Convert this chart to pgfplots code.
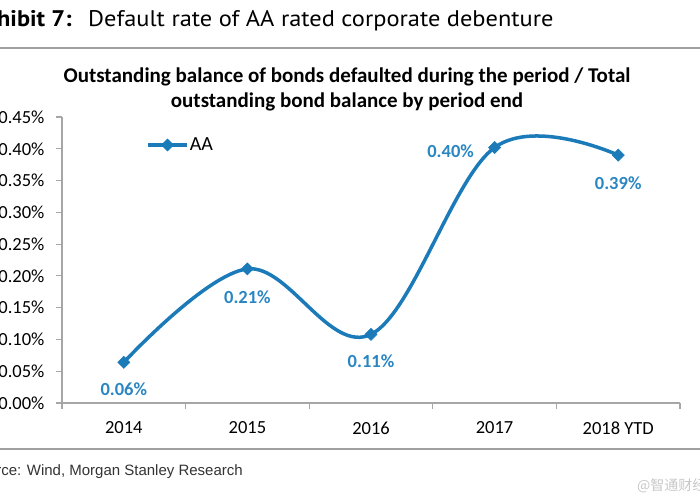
\documentclass[border=0pt]{standalone}
\usepackage{pgfplots}
\pgfplotsset{compat=1.18}
\usepackage{fontspec}
\setmainfont{Carlito}
\newfontfamily\headfont[FakeStretch=1.08]{PT Sans}
\newfontfamily\srcfont{Liberation Sans}
\newfontfamily\cjk{Noto Sans CJK SC}
\definecolor{aablue}{HTML}{1B7AB8}
\definecolor{lblblue}{HTML}{2A86C2}
\definecolor{axgray}{HTML}{A6A6A6}
\definecolor{rulegray}{HTML}{A0A0A0}
\begin{document}
\begin{tikzpicture}
\path[use as bounding box] (0pt,0pt) rectangle (700pt,500pt);
\clip (0pt,0pt) rectangle (700pt,500pt);
\node[anchor=base east, inner sep=0pt, font=\headfont\bfseries\fontsize{22.6}{26}\selectfont] at (72pt,473pt) {Exhibit 7:};
\node[anchor=base west, inner sep=0pt, font=\headfont\fontsize{22.6}{26}\selectfont] at (88pt,473pt) {Default rate of AA rated corporate debenture};
\draw[rulegray, line width=1.5pt] (0pt,452pt) -- (700pt,452pt);
\node[align=center, inner sep=0pt, font=\bfseries\fontsize{21}{25}\selectfont] at (347pt,410.5pt) {Outstanding balance of bonds defaulted during the period / Total\\outstanding bond balance by period end};
\draw[rulegray, line width=1.5pt] (0pt,51pt) -- (700pt,51pt);
\node[anchor=base east, inner sep=0pt, font=\srcfont\fontsize{15}{18}\selectfont, text=black!80] at (243pt,25pt) {Source: Wind, Morgan Stanley Research};
\node[anchor=base west, inner sep=0pt, font=\cjk\fontsize{14}{16}\selectfont, text=black!22] at (637pt,10pt) {@智通财经};
\begin{axis}[
  at={(62pt,97pt)}, anchor=south west,
  scale only axis, width=618pt, height=286pt,
  xmin=-0.5, xmax=4.5, ymin=0, ymax=0.45,
  axis x line*=bottom, axis y line*=left,
  axis line style={-, draw=axgray, line width=1.3pt},
  tick align=outside,
  xtick={0,1,2,3,4},
  xticklabels={2014,2015,2016,2017,2018 YTD},
  major x tick style={draw=none},
  minor xtick={-0.5,0.5,1.5,2.5,3.5,4.5},
  minor tick length=6pt, major tick length=6pt,
  tick style={draw=axgray, line width=1.2pt},
  ytick={0,0.05,0.1,0.15,0.2,0.25,0.3,0.35,0.4,0.45},
  yticklabels={0.00\%,0.05\%,0.10\%,0.15\%,0.20\%,0.25\%,0.30\%,0.35\%,0.40\%,0.45\%},
  tick label style={font=\fontsize{18.5}{20}\selectfont, text=black},
  xticklabel style={yshift=-9pt},
  yticklabel style={xshift=-8pt},
  clip=false,
  legend entries={AA},
  legend style={at={(0.136,0.902)}, anchor=west, draw=none, fill=none, inner sep=0pt,
    font=\fontsize{20}{22}\selectfont, nodes={inner sep=1pt}},
  legend image code/.code={\draw[#1, mark repeat=2, mark phase=2] plot coordinates {(0pt,0pt) (19.5pt,0pt) (39pt,0pt)};},
  /pgf/number format/assume math mode=true,
]
\addplot[aablue, line width=3.5pt, smooth, tension=0.6,
  mark=square*, mark size=4.3pt,
  mark options={rotate=45, line width=0.5pt, fill=aablue, draw=aablue},
  point meta=y,
  visualization depends on={value \thisrow{dx}\as\labeldx},
  visualization depends on={value \thisrow{dy}\as\labeldy},
  nodes near coords={\pgfmathprintnumber[fixed,precision=2,fixed zerofill,assume math mode=true]{\pgfplotspointmeta}\%},
  nodes near coords style={anchor=center, xshift=\labeldx pt, yshift=\labeldy pt,
    font=\bfseries\fontsize{18.5}{20}\selectfont, text=lblblue},
] table {
x y dx dy
0 0.064 0 -27
1 0.211 0 -28
2 0.108 0 -27
3 0.402 -44 -4
4 0.390 0 -28
};
\end{axis}
\end{tikzpicture}
\end{document}
